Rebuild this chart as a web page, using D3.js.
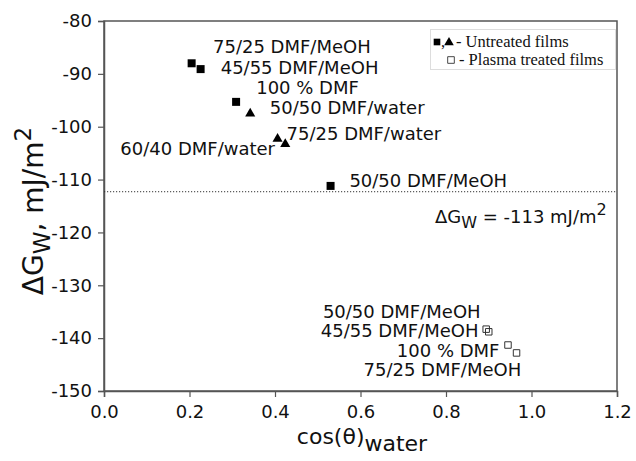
<!DOCTYPE html>
<html><head><meta charset="utf-8">
<script src="https://cdn.jsdelivr.net/npm/d3@7/dist/d3.min.js"></script>
<style>body{margin:0;background:#fff}</style>
</head><body>
<svg id="c" width="636" height="461"></svg>
<script>
// Untreated films - squares (DMF/MeOH & 100% DMF)
const untreatedSquares = [
  {x: 0.205, y: -88.0},
  {x: 0.226, y: -89.1},
  {x: 0.309, y: -95.3},
  {x: 0.530, y: -111.2}
];
// Untreated films - triangles (DMF/water)
const untreatedTriangles = [
  {x: 0.342, y: -97.5},
  {x: 0.406, y: -102.3},
  {x: 0.424, y: -103.3}
];
// Plasma treated films - open squares
const plasmaSquares = [
  {x: 0.894, y: -138.3},
  {x: 0.900, y: -138.8},
  {x: 0.945, y: -141.3},
  {x: 0.965, y: -142.8}
];
// point annotations (data units)
const annotations = [
  {t: "75/25 DMF/MeOH", x: 0.255, y: -86.05, a: "start"},
  {t: "45/55 DMF/MeOH", x: 0.273, y: -90.08, a: "start"},
  {t: "100 % DMF", x: 0.356, y: -93.85, a: "start"},
  {t: "50/50 DMF/water", x: 0.388, y: -97.5, a: "start"},
  {t: "75/25 DMF/water", x: 0.427, y: -102.6, a: "start"},
  {t: "60/40 DMF/water", x: 0.400, y: -105.35, a: "end"},
  {t: "50/50 DMF/MeOH", x: 0.574, y: -111.35, a: "start"},
  {t: "50/50 DMF/MeOH", x: 0.512, y: -136.1, a: "start"},
  {t: "45/55 DMF/MeOH", x: 0.507, y: -139.75, a: "start"},
  {t: "100 % DMF", x: 0.685, y: -143.5, a: "start"},
  {t: "75/25 DMF/MeOH", x: 0.607, y: -147.2, a: "start"}
];
const thresholdY = -112.3;
const thresholdLabelPos = {x: 0.774, y: -118.2};
const xTicks = [0.0, 0.2, 0.4, 0.6, 0.8, 1.0, 1.2];
const yTicks = [-80, -90, -100, -110, -120, -130, -140, -150];
const legendItems = ["Untreated films", "Plasma treated films"];

const svg = d3.select("#c");
const L = 104, R = 617, T = 21, B = 391;
const x = d3.scaleLinear().domain([0, 1.2]).range([L, R]);
const y = d3.scaleLinear().domain([-150, -80]).range([B, T]);
const ink = "#111", axisCol = "#555";
const font = "'DejaVu Sans', sans-serif";

// frame
svg.append("rect").attr("x", L).attr("y", T).attr("width", R - L).attr("height", B - T)
  .attr("fill", "none").attr("stroke", axisCol).attr("stroke-width", 1.5);

// axes
const xa = svg.append("g").attr("transform", `translate(0,${B})`)
  .call(d3.axisBottom(x).tickValues(xTicks).tickFormat(d3.format(".1f")).tickSize(6).tickPadding(8));
const ya = svg.append("g").attr("transform", `translate(${L},0)`)
  .call(d3.axisLeft(y).tickValues(yTicks).tickFormat(d => d.toString().replace("\u2212", "-")).tickSize(6).tickPadding(6));
[xa, ya].forEach(g => {
  g.select(".domain").attr("stroke", axisCol).attr("stroke-width", 1.5);
  g.selectAll(".tick line").attr("stroke", axisCol).attr("stroke-width", 1.2);
  g.selectAll("text").attr("font-family", font).attr("font-size", 18).attr("fill", ink);
});

// threshold dotted line
svg.append("line").attr("x1", L).attr("x2", R).attr("y1", y(thresholdY)).attr("y2", y(thresholdY))
  .attr("stroke", "#333").attr("stroke-width", 1).attr("stroke-dasharray", "1.2,1.8");
const tl = svg.append("text").attr("x", x(thresholdLabelPos.x)).attr("y", y(thresholdLabelPos.y))
  .attr("font-family", font).attr("font-size", 18).attr("fill", ink);
tl.append("tspan").text("\u0394G");
tl.append("tspan").attr("dy", 5).attr("font-size", 16).text("W");
tl.append("tspan").attr("dy", -5).text(" = -113 mJ/m");
tl.append("tspan").attr("dy", -8).attr("font-size", 16).text("2");

// markers
svg.selectAll(".sq").data(untreatedSquares).join("path")
  .attr("transform", d => `translate(${x(d.x)},${y(d.y)})`)
  .attr("d", d3.symbol(d3.symbolSquare, 64)).attr("fill", "#000");
svg.selectAll(".tri").data(untreatedTriangles).join("path")
  .attr("transform", d => `translate(${x(d.x)},${y(d.y)})`)
  .attr("d", d3.symbol(d3.symbolTriangle, 44)).attr("fill", "#000");
svg.selectAll(".osq").data(plasmaSquares).join("path")
  .attr("transform", d => `translate(${x(d.x)},${y(d.y)})`)
  .attr("d", d3.symbol(d3.symbolSquare, 42)).attr("fill", "none").attr("stroke", "#333").attr("stroke-width", 1);

// annotations
svg.selectAll(".ann").data(annotations).join("text")
  .attr("x", d => x(d.x)).attr("y", d => y(d.y)).attr("text-anchor", d => d.a)
  .attr("font-family", font).attr("font-size", 18).attr("fill", ink).text(d => d.t);

// axis titles
const xt = svg.append("text").attr("x", 362).attr("y", 444).attr("text-anchor", "middle")
  .attr("font-family", font).attr("font-size", 22).attr("fill", ink);
xt.append("tspan").text("cos(\u03b8)");
xt.append("tspan").attr("dy", 7).text("water");

const yt = svg.append("text").attr("transform", "translate(43,211) rotate(-90)").attr("text-anchor", "middle")
  .attr("font-family", font).attr("font-size", 28).attr("fill", ink);
yt.append("tspan").text("\u0394G");
yt.append("tspan").attr("dy", 7).attr("font-size", 23).text("W");
yt.append("tspan").attr("dy", -7).text(", mJ/m");
yt.append("tspan").attr("dy", -12).attr("font-size", 23).text("2");

// legend
const lg = svg.append("g");
lg.append("rect").attr("x", 430.5).attr("y", 29.5).attr("width", 185).attr("height", 40)
  .attr("fill", "#fff").attr("stroke", "#ddd").attr("stroke-width", 1);
const serif = "'Liberation Serif', 'Times New Roman', serif";
lg.append("path").attr("transform", "translate(437,42)").attr("d", d3.symbol(d3.symbolSquare, 44)).attr("fill", "#000");
lg.append("text").attr("x", 441).attr("y", 47).attr("font-family", serif).attr("font-size", 16.5).attr("fill", ink).text(",");
lg.append("path").attr("transform", "translate(449,42.5)").attr("d", d3.symbol(d3.symbolTriangle, 40)).attr("fill", "#000");
lg.append("text").attr("x", 456).attr("y", 47).attr("font-family", serif).attr("font-size", 16.5).attr("fill", ink).text("- " + legendItems[0]);
lg.append("path").attr("transform", "translate(451,60)").attr("d", d3.symbol(d3.symbolSquare, 44)).attr("fill", "none").attr("stroke", "#333").attr("stroke-width", 0.9);
lg.append("text").attr("x", 459).attr("y", 65).attr("font-family", serif).attr("font-size", 16.5).attr("fill", ink).text("- " + legendItems[1]);
</script>
</body></html>
